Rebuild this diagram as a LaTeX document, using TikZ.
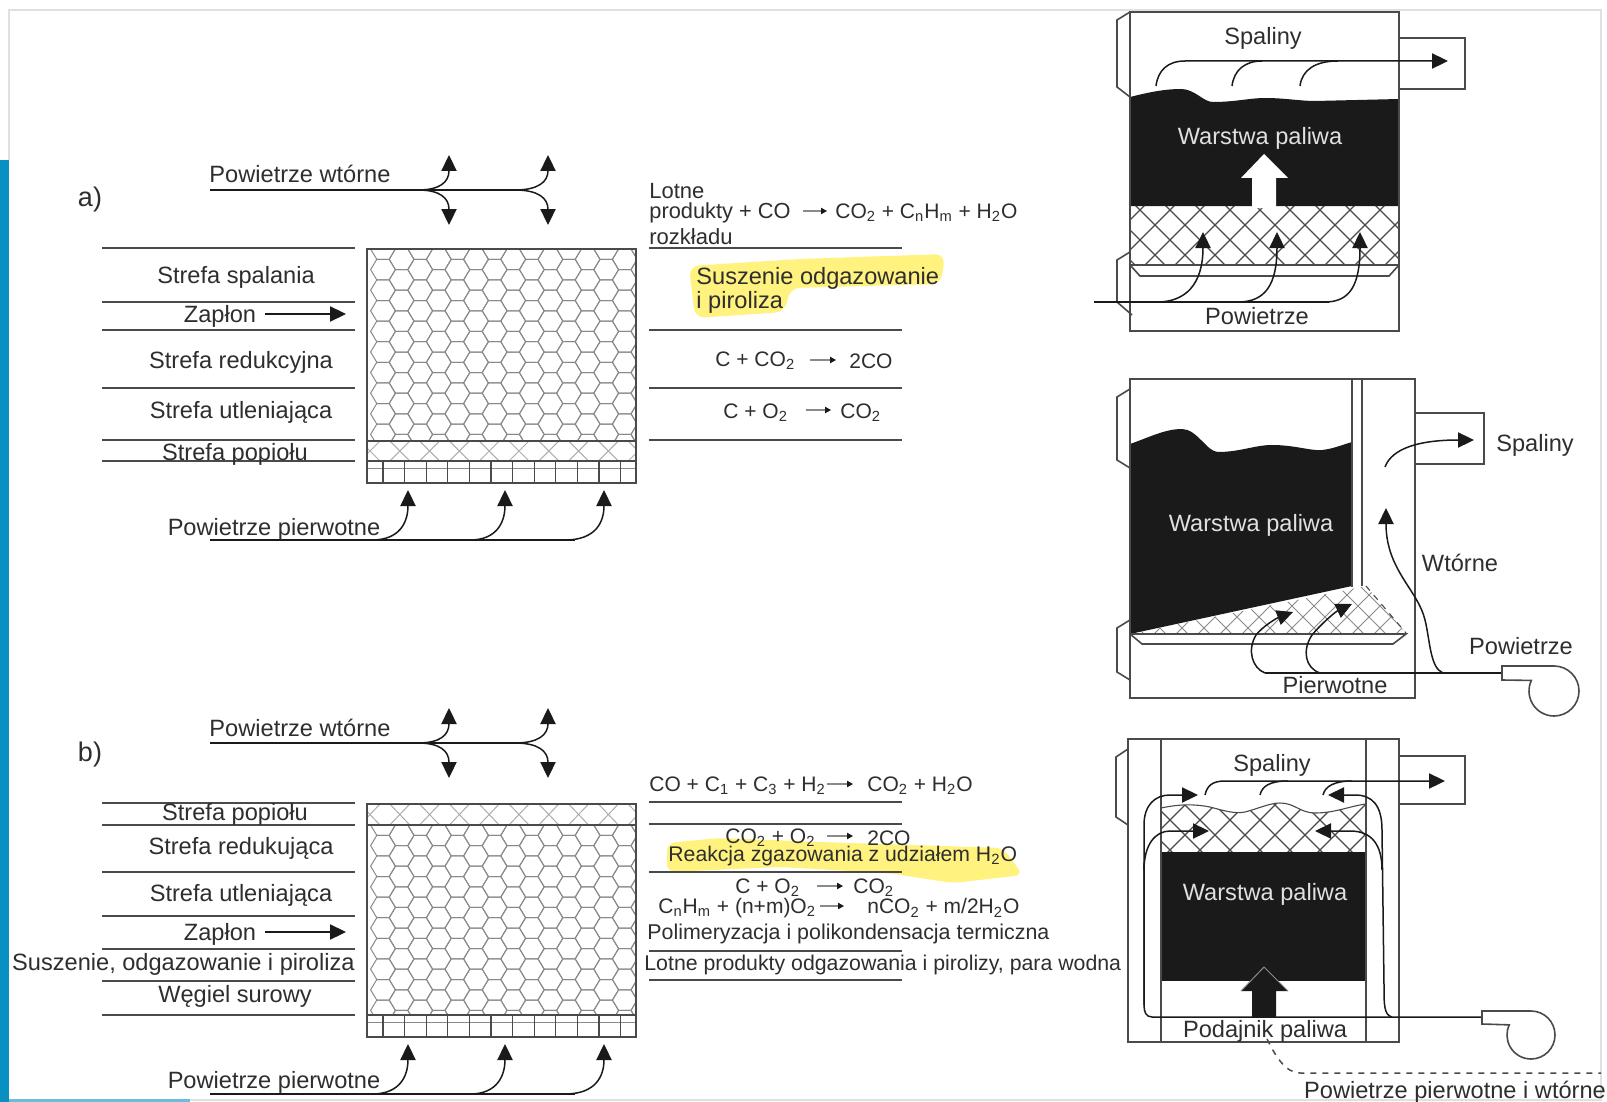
\documentclass[tikz,border=0pt]{standalone}
\usepackage{fontspec}
\setmainfont{Liberation Sans}
\usetikzlibrary{arrows.meta}
\definecolor{inkc}{HTML}{2E2E2E}
\definecolor{fuelc}{HTML}{1A1A1A}
\definecolor{linec}{HTML}{4A4A4A}
\definecolor{hexc}{HTML}{8A8A8A}
\definecolor{barc}{HTML}{0A8FC2}
\definecolor{highc}{HTML}{FFF27E}
\tikzset{
  txt/.style={font=\fontsize{11.8}{14}\selectfont,text=inkc,inner sep=0pt,yshift=-1pt},
  txl/.style={txt,anchor=west},
  eqt/.style={txl,font=\fontsize{10.5}{14}\selectfont},
  wtxt/.style={txt,text=white!88!black},
  rule/.style={draw=linec,line width=1.1pt},
  frame/.style={draw=linec,line width=0.95pt},
  flow/.style={draw=fuelc,line width=0.75pt},
  tip/.style={-{Triangle[length=8pt,width=7.6pt]}},
  smalltip/.style={draw=hexc,line width=0.6pt,-{Triangle[length=3pt,width=3.2pt,fill=fuelc,color=fuelc]}},
  hexline/.style={draw=hexc,line width=0.5pt},
  hatchline/.style={draw=linec,line width=0.55pt},
  hatchthin/.style={draw=hexc,line width=0.5pt},
}
\newcommand{\honey}[4]{%
  \begin{scope}
  \clip (#1,#2) rectangle (#3,#4);
  \foreach \hc in {0,...,15}{\foreach \hr in {-1,...,13}{
    \pgfmathsetmacro\hx{#1+16+\hc*18.6}
    \pgfmathsetmacro\hy{#2+\hr*20.6+mod(\hc,2)*10.3}
    \draw[hexline] (\hx+12.4,\hy) -- (\hx+6.2,\hy+10.3) -- (\hx-6.2,\hy+10.3) -- (\hx-12.4,\hy) -- (\hx-6.2,\hy-10.3) -- (\hx+6.2,\hy-10.3) -- cycle;
  }}
  \end{scope}}
\newcommand{\xband}[2]{%
  \begin{scope}
  \clip (367,#1) rectangle (636,#2);
  \foreach \hk in {0,...,9}{
    \draw[draw=hexc!70,line width=0.5pt] (360+\hk*29.8,#1) -- (380+\hk*29.8,#2);
    \draw[draw=hexc!70,line width=0.5pt] (360+\hk*29.8,#2) -- (380+\hk*29.8,#1);
  }
  \end{scope}}
\newcommand{\gridband}[2]{%
  \draw[draw=hexc,line width=0.5pt] (367,#1+7) -- (636,#1+7);
  \foreach \hk in {0,...,11}{\draw[draw=linec,line width=0.6pt] (383+\hk*21.6,#1) -- (383+\hk*21.6,#2);}}
\newcommand{\hatchrange}{%
  \foreach \hk in {900,930,...,1500}{
    \draw[hatchline] (\hk,150) -- (\hk+300,450);
    \draw[hatchline] (\hk,450) -- (\hk+300,150);}}
\newcommand{\hatchrangeB}{%
  \foreach \hk in {900,922,...,1500}{
    \draw[hatchthin] (\hk,500) -- (\hk+300,800);
    \draw[hatchthin] (\hk,800) -- (\hk+300,500);}}
\newcommand{\hatchrangeC}{%
  \foreach \hk in {900,930,...,1500}{
    \draw[hatchline] (\hk,700) -- (\hk+300,1000);
    \draw[hatchline] (\hk,1000) -- (\hk+300,700);}}
\newcommand{\topflow}[1]{%
  \draw[flow,line width=1pt] (210,#1) -- (520,#1);
  \draw[flow,tip] (418,#1) .. controls (440,#1) and (449,#1-8) .. (449,#1-35);
  \draw[flow,tip] (418,#1) .. controls (440,#1) and (449,#1+8) .. (449,#1+35);
  \draw[flow,tip] (515,#1) .. controls (538,#1) and (548,#1-8) .. (548,#1-35);
  \draw[flow,tip] (515,#1) .. controls (538,#1) and (548,#1+8) .. (548,#1+35);}
\newcommand{\botflow}[2]{%
  \draw[flow,line width=1pt] (210,#1) -- (575,#1);
  \draw[flow,tip] (372,#1) .. controls (400,#1) and (408,#1-18) .. (408,#2);
  \draw[flow,tip] (470,#1) .. controls (497,#1) and (505,#1-18) .. (505,#2);
  \draw[flow,tip] (565,#1) .. controls (596,#1) and (604,#1-18) .. (604,#2);}
\begin{document}
\begin{tikzpicture}[x=0.5pt,y=-0.5pt]
\useasboundingbox (0,0) rectangle (1607,1102);
\fill[white] (0,0) rectangle (1607,1102);
% page frame
\draw[draw=black!12,line width=0.6pt] (9,160) -- (9,10) -- (1601,10) -- (1601,1100) -- (150,1100);
\fill[barc] (0,160) rectangle (9,1102);
\fill[barc!60] (9,1099) rectangle (190,1102);

% highlights
\fill[highc,rounded corners=5pt] (689,266) -- (800,259) -- (945,254) -- (941,284) -- (790,288) -- (785,312) -- (695,318) -- cycle;
\fill[highc,rounded corners=4pt] (667,843) -- (720,838) -- (820,842) -- (1003,848) -- (1023,875) -- (953,883) -- (887,873) -- (780,867) -- (667,872) -- cycle;

% ===== diagram a
\honey{367}{249}{636}{441}
\xband{441}{461}
\gridband{461}{483}
\draw[frame] (367,249) rectangle (636,483);
\draw[frame] (367,441) -- (636,441);
\draw[frame] (367,461) -- (636,461);
\foreach \yy in {248,302,330,388,440,461}{\draw[rule] (102,\yy) -- (355,\yy);}
\foreach \yy in {248,330,388,440}{\draw[rule] (649,\yy) -- (902,\yy);}
\topflow{190}
\botflow{540}{490}
\draw[flow,tip] (265,314) -- (346,314);

\node[txt] (la) at (90,198) {\fontsize{13.5}{14}\selectfont a)};
\node[txt] (pwa) at (300,172) {Powietrze wtórne};
\node[txt] (ssp) at (236,275) {Strefa spalania};
\node[txt] (zaa) at (220,314) {Zapłon};
\node[txt] (sra) at (241,360) {Strefa redukcyjna};
\node[txt] (sua) at (241,410) {Strefa utleniająca};
\node[txt] (spa) at (235,452) {Strefa popiołu};
\node[txt] (ppa) at (274,527) {Powietrze pierwotne};
\node[eqt,font=\fontsize{11}{14}\selectfont] (ea1) at (649,189) {Lotne};
\node[eqt,font=\fontsize{10.9}{14}\selectfont] (ea2) at (649,211) {produkty + CO};
\node[eqt] (ea3) at (835,211) {CO\textsubscript{2} + C\textsubscript{n}H\textsubscript{m} + H\textsubscript{2}O};
\node[eqt,font=\fontsize{11}{14}\selectfont] (ea4) at (649,235) {rozkładu};
\node[txl] (ea5) at (696,276) {Suszenie odgazowanie};
\node[txl] (ea6) at (696,300) {i piroliza};
\node[eqt] (ea7) at (715,359) {C + CO\textsubscript{2}};
\node[eqt] (ea8) at (849,359) {2CO};
\node[eqt] (ea9) at (723,411) {C + O\textsubscript{2}};
\node[eqt] (ea10) at (840,411) {CO\textsubscript{2}};
\draw[smalltip] (803,211) -- (827,211);
\draw[smalltip] (810,360) -- (836,360);
\draw[smalltip] (806,410) -- (831,410);

% ===== diagram b
\honey{367}{825}{636}{1015}
\xband{804}{825}
\gridband{1015}{1037}
\draw[frame] (367,804) rectangle (636,1037);
\draw[frame] (367,825) -- (636,825);
\draw[frame] (367,1015) -- (636,1015);
\foreach \yy in {803,825,872,916,949,981,1015}{\draw[rule] (102,\yy) -- (355,\yy);}
\foreach \yy in {802,824,872,951,980}{\draw[rule] (649,\yy) -- (902,\yy);}
\topflow{743}
\botflow{1094}{1044}
\draw[flow,tip] (265,932) -- (346,932);

\node[txt] (lb) at (90,753) {\fontsize{13.5}{14}\selectfont b)};
\node[txt] (pwb) at (300,726) {Powietrze wtórne};
\node[txt] (spb) at (235,812) {Strefa popiołu};
\node[txt] (srb) at (241,846) {Strefa redukująca};
\node[txt] (sub) at (241,893) {Strefa utleniająca};
\node[txt] (zab) at (220,932) {Zapłon};
\node[txt,anchor=east] (sob) at (355,962) {Suszenie, odgazowanie i piroliza};
\node[txt] (wsb) at (235,994) {Węgiel surowy};
\node[txt] (ppb) at (274,1080) {Powietrze pierwotne};

\node[eqt] (eb1) at (649,784) {CO + C\textsubscript{1} + C\textsubscript{3} + H\textsubscript{2}};
\node[eqt] (eb2) at (867,784) {CO\textsubscript{2} + H\textsubscript{2}O};
\node[eqt] (eb3) at (725,836) {CO\textsubscript{2} + O\textsubscript{2}};
\node[eqt] (eb4) at (867,836) {2CO};
\node[eqt,font=\fontsize{10.6}{14}\selectfont] (eb5) at (668,854) {Reakcja zgazowania z udziałem H\textsubscript{2}O};
\node[eqt] (eb6) at (735,886) {C + O\textsubscript{2}};
\node[eqt] (eb7) at (853,886) {CO\textsubscript{2}};
\node[eqt] (eb8) at (658,906) {C\textsubscript{n}H\textsubscript{m} + (n+m)O\textsubscript{2}};
\node[eqt] (eb9) at (867,906) {nCO\textsubscript{2} + m/2H\textsubscript{2}O};
\node[eqt,font=\fontsize{10.7}{14}\selectfont] (eb10) at (647,932) {Polimeryzacja i polikondensacja termiczna};
\node[eqt,font=\fontsize{10.65}{14}\selectfont] (eb11) at (644,963) {Lotne produkty odgazowania i pirolizy, para wodna};
\draw[smalltip] (827,784) -- (853,784);
\draw[smalltip] (827,836) -- (853,836);
\draw[smalltip] (817,886) -- (843,886);
\draw[smalltip] (820,906) -- (844,906);

% ===== furnace 1
\begin{scope}
\clip (1130,206) rectangle (1399,265);
\hatchrange
\end{scope}
\fill[fuelc] (1130,97) .. controls (1150,92) and (1165,89) .. (1181,89) .. controls (1195,89) and (1203,102) .. (1213,102) .. controls (1235,102) and (1250,98) .. (1265,98) .. controls (1285,98) and (1300,101) .. (1315,101) -- (1399,99) -- (1399,206) -- (1130,206) -- cycle;
\fill[white] (1264,154) -- (1288,178) -- (1276,178) -- (1276,208) -- (1252,208) -- (1252,178) -- (1241,178) -- cycle;
\draw[frame] (1130,12) rectangle (1399,331);
\draw[frame,line width=0.8pt] (1130,12) -- (1117,20) -- (1117,87) -- (1130,97);
\draw[frame,line width=0.8pt] (1130,252) -- (1117,260) -- (1117,302) -- (1132,315);
\draw[frame,line width=0.8pt] (1399,38) -- (1465,38) -- (1465,89) -- (1399,89);
\draw[frame,line width=0.8pt] (1130,265) -- (1399,265) (1130,265) -- (1140,276) -- (1389,276) -- (1399,265);
\draw[flow] (1094,302) -- (1329,302);
\draw[flow,tip] (1156,86) .. controls (1158,70) and (1168,61) .. (1185,61) -- (1448,61);
\draw[flow] (1232,86) .. controls (1234,70) and (1245,61) .. (1262,61);
\draw[flow] (1300,86) .. controls (1302,70) and (1315,61) .. (1338,61);
\draw[flow,tip] (1157,302) .. controls (1185,302) and (1203,285) .. (1203,232);
\draw[flow,tip] (1238,302) .. controls (1265,302) and (1277,285) .. (1277,232);
\draw[flow,tip] (1325,302) .. controls (1350,302) and (1360,285) .. (1360,232);
\node[txt] (f1s) at (1263,36) {Spaliny};
\node[wtxt] (f1w) at (1260,136) {Warstwa paliwa};
\node[txt] (f1p) at (1257,314) {Powietrze};

% ===== furnace 2
\begin{scope}
\clip (1130,634) -- (1366,586) -- (1406,633) -- cycle;
\hatchrangeB
\end{scope}
\fill[fuelc] (1130,444) .. controls (1150,437) and (1165,429) .. (1182,429) .. controls (1197,429) and (1207,452) .. (1218,452) .. controls (1240,452) and (1255,445) .. (1272,445) .. controls (1295,445) and (1310,451) .. (1322,450) .. controls (1332,449) and (1342,445) .. (1352,442) -- (1352,586) -- (1130,634) -- cycle;
\draw[hatchline,dashed] (1366,586) -- (1406,633);
\draw[frame] (1130,379) rectangle (1415,698);
\draw[frame] (1352,379) -- (1352,587) (1362,379) -- (1362,586);
\draw[frame,line width=0.8pt] (1130,389) -- (1117,397) -- (1117,460) -- (1130,468);
\draw[frame,line width=0.8pt] (1130,620) -- (1117,628) -- (1117,672) -- (1130,680);
\draw[frame,line width=0.8pt] (1415,413) -- (1484,413) -- (1484,464) -- (1415,464);
\draw[frame,line width=0.8pt] (1130,634) -- (1406,634) -- (1393,644) -- (1142,644) -- (1130,634);
\draw[flow,tip] (1385,467) .. controls (1392,448) and (1420,440) .. (1474,440);
\draw[flow] (1265,673) -- (1502,673);
\draw[flow,tip] (1265,673) .. controls (1252,668) and (1247,650) .. (1256,635) .. controls (1263,626) and (1277,618) .. (1293,612);
\draw[flow,tip] (1320,673) .. controls (1305,668) and (1302,650) .. (1312,635) .. controls (1320,625) and (1335,612) .. (1352,604);
\draw[flow,tip] (1443,673) .. controls (1430,668) and (1430,640) .. (1425,620) .. controls (1418,590) and (1386,570) .. (1386,508);
\draw[frame,line width=0.8pt] (1502,666) -- (1554,666) arc[start angle=90,end angle=-205,radius=12.5pt] -- (1502,680) -- cycle;
\node[wtxt] (f2w) at (1251,523) {Warstwa paliwa};
\node[txt] (f2v) at (1460,561) {Wtórne};
\node[txt] (f2s) at (1535,443) {Spaliny};
\node[txt] (f2a) at (1521,644) {Powietrze};
\node[txt] (f2p) at (1335,683) {Pierwotne};

% ===== furnace 3
\begin{scope}
\clip (1161,808) .. controls (1180,804) and (1195,804) .. (1210,807) .. controls (1225,811) and (1235,814) .. (1245,812) .. controls (1260,808) and (1270,803) .. (1280,803) .. controls (1295,803) and (1300,813) .. (1315,813) .. controls (1335,813) and (1350,806) .. (1366,804) -- (1366,852) -- (1161,852) -- cycle;
\hatchrangeC
\end{scope}
\draw[hatchline] (1161,808) .. controls (1180,804) and (1195,804) .. (1210,807) .. controls (1225,811) and (1235,814) .. (1245,812) .. controls (1260,808) and (1270,803) .. (1280,803) .. controls (1295,803) and (1300,813) .. (1315,813) .. controls (1335,813) and (1350,806) .. (1366,804);
\fill[fuelc] (1161,852) rectangle (1366,981);
\fill[fuelc] (1264,967) -- (1288,991) -- (1276,991) -- (1276,1017) -- (1252,1017) -- (1252,991) -- (1241,991) -- cycle;
\draw[draw=hexc,line width=0.5pt] (1241,991) -- (1264,967) -- (1288,991);
\draw[frame] (1128,739) rectangle (1399,1042);
\draw[frame,line width=1.2pt] (1161,739) -- (1161,1042) (1366,739) -- (1366,1042);
\draw[frame,line width=0.8pt] (1128,749) -- (1116,757) -- (1116,817) -- (1128,825);
\draw[frame,line width=0.8pt] (1399,756) -- (1465,756) -- (1465,804) -- (1399,804);
\draw[flow,tip] (1205,795) .. controls (1207,786) and (1212,781) .. (1225,781) -- (1445,781);
\draw[flow] (1260,795) .. controls (1262,786) and (1270,781) .. (1288,781);
\draw[flow] (1323,795) .. controls (1325,786) and (1335,781) .. (1352,781);
\draw[flow] (1482,1017) -- (1152,1017) .. controls (1146,1017) and (1144,1012) .. (1144,1005) -- (1144,863);
\draw[flow,tip] (1144,1005) -- (1144,825) .. controls (1144,805) and (1155,795) .. (1170,795) -- (1198,795);
\draw[flow,tip] (1144,870) .. controls (1144,845) and (1155,831) .. (1170,831) -- (1209,831);
\draw[flow,tip] (1392,1017) .. controls (1384,1015) and (1384,1005) .. (1384,985) -- (1382,830) .. controls (1382,805) and (1372,795) .. (1355,795) -- (1328,795);
\draw[flow,tip] (1382,870) .. controls (1382,845) and (1372,831) .. (1350,831) -- (1315,831);
\draw[frame,line width=0.8pt] (1482,1011) -- (1531,1011) arc[start angle=90,end angle=-205,radius=12pt] -- (1482,1024) -- cycle;
\coordinate (f3dash) at (1267,1039);
\coordinate (f3end) at (1601,1073);
\draw[draw=linec,line width=0.75pt,dashed] (f3dash) .. controls (1275,1055) and (1285,1073) .. (1300,1073) -- (f3end);
\node[txt] (f3s) at (1272,763) {Spaliny};
\node[wtxt] (f3w) at (1265,892) {Warstwa paliwa};
\node[txt] (f3p) at (1265,1029) {Podajnik paliwa};
\node[txt] (f3a) at (1455,1090) {Powietrze pierwotne i wtórne};
\end{tikzpicture}
\end{document}
